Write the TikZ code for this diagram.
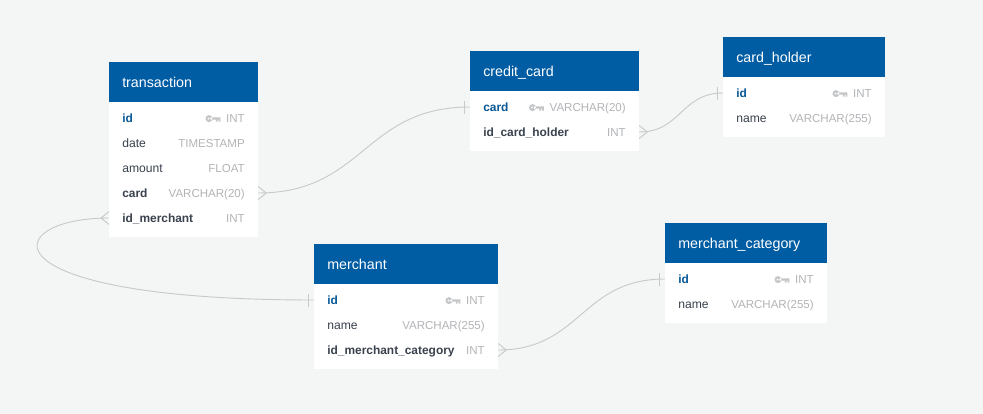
\documentclass[tikz,border=0pt]{standalone}
\usepackage{fontspec}
\setmainfont{Liberation Sans}
\usetikzlibrary{calc}
\definecolor{pagebg}{RGB}{244,246,245}
\definecolor{headblue}{RGB}{0,92,163}
\definecolor{keyblue}{RGB}{8,88,150}
\definecolor{fielddark}{RGB}{58,66,78}
\definecolor{typegray}{RGB}{178,180,183}
\definecolor{keygray}{RGB}{196,198,200}
\definecolor{relgray}{RGB}{200,202,202}
\tikzset{
  headbox/.style={fill=headblue,draw=none,text=white,anchor=north west,inner sep=0pt,minimum height=29.8pt,text width=0.75pt*#1-19.5pt,minimum width=0.75pt*#1,align=left,font=\fontsize{10.7}{13}\selectfont,inner xsep=9.75pt,text height=10.2pt,text depth=2pt},
  bodybox/.style={fill=white,draw=none,anchor=west,inner sep=0pt,minimum height=18.75pt,minimum width=0.75pt*#1},
  fieldname/.style={anchor=west,inner sep=0pt,text=fielddark,text height=8pt,text depth=2pt,font=\fontsize{9.1}{11}\selectfont},
  fieldpk/.style={fieldname,text=keyblue,font=\fontsize{8.95}{11}\selectfont\bfseries},
  fieldfk/.style={fieldname,font=\fontsize{8.95}{11}\selectfont\bfseries},
  fieldtype/.style={anchor=east,inner sep=0pt,text=typegray,text height=8pt,text depth=2pt,font=\fontsize{8.65}{11}\selectfont},
  relation/.style={draw=relgray,line width=0.7pt}
}
% one row of a table: name, left x, y, width
\newcommand{\tablerow}[4]{\node[bodybox=#4] (#1) at (#2,#3) {};}
% key drawn left of a type label
\newcommand{\pkicon}[1]{
  \fill[keygray,shift={($(#1.west)+(-20.5,0.6)$)}] (3.6,0) circle (3.5) (5,-1.3) rectangle (15,1.1) (10.5,0) rectangle (12.2,3) (13.2,0) rectangle (15,3);
  \fill[white,shift={($(#1.west)+(-20.5,0.6)$)}] (3.2,0) circle (1);
}
\newcommand{\crowend}[2]{\draw[relation,shift={(#1)}] (0,-6.5) -- (#2*8,0) -- (0,6.5);}
\newcommand{\barend}[1]{\draw[relation,shift={(#1)}] (-6,-6.5) -- (-6,6.5);}
\begin{document}
\begin{tikzpicture}[x=0.75pt,y=0.75pt,yscale=-1,xscale=1]
  \fill[pagebg] (0,0) rectangle (983,414);
  \useasboundingbox (0,0) rectangle (983,414);

  %Table: transaction
  \node[headbox=148.7] (transaction) at (109,61.7) {transaction};
  \fill[white] (transaction.south west) rectangle ($(transaction.south east)+(0,135)$);
  \tablerow{trid}{109}{118}{148.7}
  \tablerow{trdate}{109}{143}{148.7}
  \tablerow{tramount}{109}{168}{148.7}
  \tablerow{trcard}{109}{193}{148.7}
  \tablerow{trmerchant}{109}{218}{148.7}
  \node[fieldpk] (tridname) at (122,118) {id};
  \node[fieldtype] (tridtype) at (245,118) {INT};
  \pkicon{tridtype}
  \node[fieldname] (trdatename) at (122,143) {date};
  \node[fieldtype] (trdatetype) at (245,143) {TIMESTAMP};
  \node[fieldname] (tramountname) at (122,168) {amount};
  \node[fieldtype] (tramounttype) at (245,168) {FLOAT};
  \node[fieldfk] (trcardname) at (122,193) {card};
  \node[fieldtype] (trcardtype) at (245,193) {VARCHAR(20)};
  \node[fieldfk] (trmerchantname) at (122,218) {id\_merchant};
  \node[fieldtype] (trmerchanttype) at (245,218) {INT};

  %Table: credit_card
  \node[headbox=168.7] (creditcard) at (470,50.7) {credit\_card};
  \fill[white] (creditcard.south west) rectangle ($(creditcard.south east)+(0,59.7)$);
  \tablerow{cccard}{470}{107}{168.7}
  \tablerow{ccholder}{470}{132}{168.7}
  \node[fieldpk] (cccardname) at (483,107) {card};
  \node[fieldtype] (cccardtype) at (626,107) {VARCHAR(20)};
  \pkicon{cccardtype}
  \node[fieldfk] (ccholdername) at (483,132) {id\_card\_holder};
  \node[fieldtype] (ccholdertype) at (626,132) {INT};

  %Table: card_holder
  \node[headbox=161.7] (cardholder) at (723,36.7) {card\_holder};
  \fill[white] (cardholder.south west) rectangle ($(cardholder.south east)+(0,59.7)$);
  \tablerow{chid}{723}{93}{161.7}
  \tablerow{chname}{723}{118}{161.7}
  \node[fieldpk] (chidname) at (736,93) {id};
  \node[fieldtype] (chidtype) at (872,93) {INT};
  \pkicon{chidtype}
  \node[fieldname] (chnamename) at (736,118) {name};
  \node[fieldtype] (chnametype) at (872,118) {VARCHAR(255)};

  %Table: merchant
  \node[headbox=183.7] (merchant) at (314,243.7) {merchant};
  \fill[white] (merchant.south west) rectangle ($(merchant.south east)+(0,84.7)$);
  \tablerow{meid}{314}{300}{183.7}
  \tablerow{mename}{314}{325}{183.7}
  \tablerow{mecategory}{314}{350}{183.7}
  \node[fieldpk] (meidname) at (327,300) {id};
  \node[fieldtype] (meidtype) at (485,300) {INT};
  \pkicon{meidtype}
  \node[fieldname] (menamename) at (327,325) {name};
  \node[fieldtype] (menametype) at (485,325) {VARCHAR(255)};
  \node[fieldfk] (mecategoryname) at (327,350) {id\_merchant\_category};
  \node[fieldtype] (mecategorytype) at (485,350) {INT};

  %Table: merchant_category
  \node[headbox=161.7] (merchantcategory) at (665,222.7) {merchant\_category};
  \fill[white] (merchantcategory.south west) rectangle ($(merchantcategory.south east)+(0,59.7)$);
  \tablerow{mcid}{665}{279}{161.7}
  \tablerow{mcname}{665}{304}{161.7}
  \node[fieldpk] (mcidname) at (678,279) {id};
  \node[fieldtype] (mcidtype) at (814,279) {INT};
  \pkicon{mcidtype}
  \node[fieldname] (mcnamename) at (678,304) {name};
  \node[fieldtype] (mcnametype) at (814,304) {VARCHAR(255)};

  %Curve Lines
  \draw[relation] (trcard.east) .. controls (364,193) and (364,107) .. (cccard.west);
  \draw[relation] (ccholder.east) .. controls (681,132) and (681,93) .. (chid.west);
  \draw[relation] (mecategory.east) .. controls (581,350) and (581,279) .. (mcid.west);
  \draw[relation] (trmerchant.west) .. controls (-1,218) and (-21,300) .. (meid.west);

  %Relation ends
  \crowend{trcard.east}{1}
  \crowend{ccholder.east}{1}
  \crowend{mecategory.east}{1}
  \crowend{trmerchant.west}{-1}
  \barend{cccard.west}
  \barend{chid.west}
  \barend{mcid.west}
  \barend{meid.west}
\end{tikzpicture}
\end{document}
